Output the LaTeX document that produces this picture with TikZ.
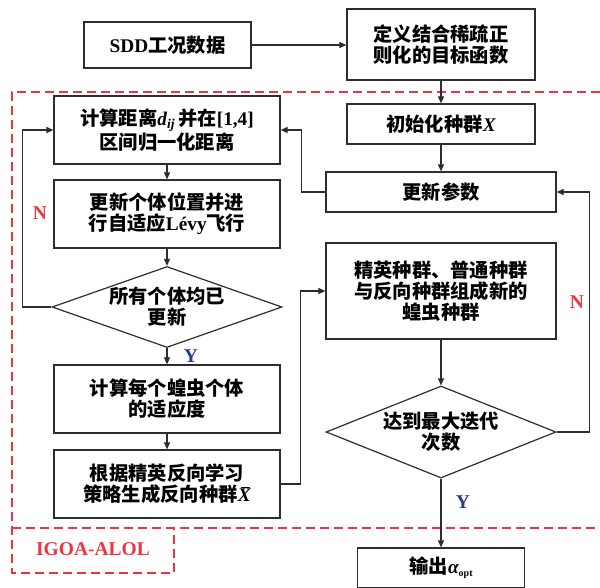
\documentclass[tikz,border=0pt]{standalone}
\usepackage{fontspec}
\setmainfont{Noto Sans CJK SC}
\newfontfamily\lat{Liberation Serif}
\usetikzlibrary{arrows.meta,shapes.geometric}
\definecolor{boxc}{RGB}{45,45,45}
\definecolor{dred}{RGB}{238,52,64}
\definecolor{dblue}{RGB}{43,57,144}
\newcommand{\barX}{\makebox[0pt][l]{\hspace{3.5pt}\raisebox{14pt}{\rule{9pt}{0.9pt}}}{\lat\itshape X}}
\begin{document}
\begin{tikzpicture}[x=1pt,y=-1pt,
  txt/.style={font=\fontsize{19.3}{21}\selectfont\bfseries},
  box/.style={txt,draw=boxc,line width=1.2pt,rectangle,align=center,inner sep=0pt},
  dia/.style={txt,draw=boxc,line width=1.2pt,diamond,align=center,inner sep=0pt},
  arr/.style={draw=boxc,line width=1.1pt,-{Triangle[length=7pt,width=6pt]}},
  redl/.style={draw=dred,line width=1.5pt,dash pattern=on 9pt off 5pt},
  lbl/.style={font=\lat\fontsize{19.5}{21}\selectfont\bfseries}
]
\useasboundingbox (0,0) rectangle (600,587);
% dashed frame
\draw[redl] (600,92) -- (12,92) -- (12,573) -- (174,573) -- (174,528);
\draw[redl] (12,528) -- (600,528);
\node[lbl,text=dred] (igoa) at (93,549) {IGOA-ALOL};

% nodes
\node[box,minimum width=167pt,minimum height=46pt] (sdd) at (167.5,45) {{\lat SDD}工况数据};
\node[box,minimum width=188pt,minimum height=71pt] (def) at (441,44.5) {定义结合稀疏正\\则化的目标函数};
\node[box,minimum width=188pt,minimum height=40pt] (init) at (441,124) {初始化种群{\lat\itshape X}};
\node[box,minimum width=230pt,minimum height=40pt] (upd) at (441,192) {更新参数};
\node[box,minimum width=226pt,minimum height=68pt] (comp) at (167,130) {计算距离{\lat\itshape d\textsubscript{ij}}\,并在{\lat [1,4]}\\区间归一化距离};
\node[box,minimum width=226pt,minimum height=68pt] (pos) at (167,214) {更新个体位置并进\\行自适应{\lat Lévy}飞行};
\node[dia,aspect=2.84,minimum width=230pt,minimum height=81pt] (dia1) at (167,307) {所有个体均已\\更新};
\node[box,minimum width=226pt,minimum height=68pt] (fit) at (167,399) {计算每个蝗虫个体\\的适应度};
\node[box,minimum width=226pt,minimum height=68pt] (opp) at (167,484) {根据精英反向学习\\策略生成反向种群\barX};
\node[box,minimum width=230pt,minimum height=96pt] (elite) at (441,291) {精英种群、普通种群\\与反向种群组成新的\\蝗虫种群};
\node[dia,aspect=2.5,minimum width=230pt,minimum height=92pt] (dia2) at (441,432) {达到最大迭代\\次数};
\node[box,minimum width=167pt,minimum height=40pt] (out) at (441,568) {输出{\lat\itshape α}{\lat\fontsize{10}{10}\selectfont\bfseries\raisebox{-3pt}{opt}}};

% connectors
\draw[arr] (sdd.east) -- (sdd.east -| def.west);
\draw[arr] (def) -- (init);
\draw[arr] (init) -- (upd);
\draw[arr] (upd.west) -- ++(-24,0) |- (comp.east);
\draw[arr] (comp) -- (pos);
\draw[arr] (pos) -- (dia1);
\draw[arr] (dia1.west) -- ++(-29,0) |- (comp.west);
\draw[arr] (dia1) -- (fit);
\draw[arr] (fit) -- (opp);
\draw[arr] (opp.east) -- ++(20,0) |- (elite.west);
\draw[arr] (elite) -- (dia2);
\draw[arr] (dia2.east) -- ++(33,0) |- (upd.east);
\draw[arr] (dia2) -- (out);

% labels
\node[lbl,text=dred] (n1) at (40,213) {N};
\node[lbl,text=dblue] (y1) at (191,356) {Y};
\node[lbl,text=dred] (n2) at (577,302) {N};
\node[lbl,text=dblue] (y2) at (463,502) {Y};
\end{tikzpicture}
\end{document}
